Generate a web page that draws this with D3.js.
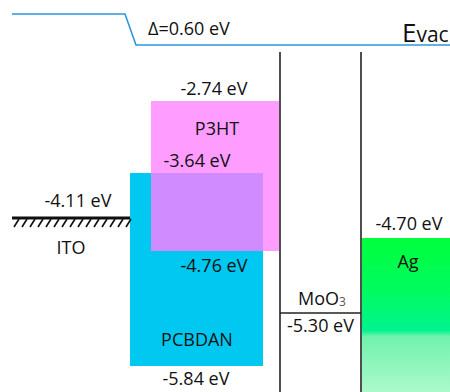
<!DOCTYPE html>
<html>
<head>
<meta charset="utf-8">
<script src="https://cdn.jsdelivr.net/npm/d3@7"></script>
<style>
  html, body { margin: 0; padding: 0; background: #fff; }
  svg { display: block; }
  text { font-family: "Open Sans", "Noto Sans", sans-serif; fill: #111; }
</style>
</head>
<body>
<svg id="chart" width="450" height="392"></svg>
<script>
// Energy levels (eV)
const semiNames = ["P3HT", "PCBDAN"];
const semiLumo = [-2.74, -3.64];
const semiHomo = [-4.76, -5.84];

const metalNames = ["ITO", "MoO3", "Ag"];
const metalLevels = [-4.11, -5.30, -4.70];

const vacuumShift = 0.60;

const svg = d3.select("#chart");
const W = 450, H = 392;

// Energy axis: schematic (not to scale), piecewise-linear between the drawn levels
const allLevels = [...semiLumo, ...semiHomo, ...metalLevels].sort((a, b) => b - a);
const yStops = [101, 173, 218, 238, 251, 313, 366];
const y = d3.scaleLinear().domain(allLevels).range(yStops);

// Horizontal placement of each layer
const x = d3.scaleOrdinal()
  .domain(["ITO", "PCBDAN", "P3HT", "MoO3", "Ag"])
  .range([[12, 130], [130, 263], [151, 279], [280, 361], [362, 452]]);

const fmt = v => v.toFixed(2) + " eV";

const defs = svg.append("defs");
const grad = defs.append("linearGradient").attr("id", "agGrad")
  .attr("x1", 0).attr("x2", 0).attr("y1", 0).attr("y2", 1);
[[0, "#00ff3c"], [0.35, "#00fb60"], [0.6, "#00f48e"], [0.64, "#70f2ad"], [1, "#acf9cb"]]
  .forEach(([o, c]) => grad.append("stop").attr("offset", o).attr("stop-color", c));

// Vacuum level with the interface dipole step
const vacY0 = 14, vacY1 = 45;
svg.append("path")
  .attr("d", d3.line()([[12, vacY0], [125, vacY0], [136, vacY1], [W, vacY1]]))
  .attr("fill", "none").attr("stroke", "#2f95e0").attr("stroke-width", 1.6);

svg.append("text").attr("x", 148).attr("y", 35).attr("font-size", 18)
  .text("Δ=" + vacuumShift.toFixed(2) + " eV");
const ev = svg.append("text").attr("x", 402).attr("y", 42);
ev.append("tspan").attr("font-size", 26).text("E");
ev.append("tspan").attr("font-size", 21).text("vac");

// Semiconductor bands
const bands = semiNames.map((n, i) => ({ name: n, lumo: semiLumo[i], homo: semiHomo[i] }));
const pc = bands[1], p3 = bands[0];

svg.append("rect")
  .attr("x", x(pc.name)[0]).attr("width", x(pc.name)[1] - x(pc.name)[0])
  .attr("y", y(pc.lumo)).attr("height", y(pc.homo) - y(pc.lumo))
  .attr("fill", "#00c8f0");
svg.append("rect")
  .attr("x", x(p3.name)[0]).attr("width", x(p3.name)[1] - x(p3.name)[0])
  .attr("y", y(p3.lumo)).attr("height", y(p3.homo) - y(p3.lumo))
  .attr("fill", "#ff9cff");
// Overlap of the two bands
const ox0 = Math.max(x(pc.name)[0], x(p3.name)[0]);
const ox1 = Math.min(x(pc.name)[1], x(p3.name)[1]);
svg.append("rect")
  .attr("x", ox0).attr("width", ox1 - ox0)
  .attr("y", y(pc.lumo)).attr("height", y(p3.homo) - y(pc.lumo))
  .attr("fill", "#d08cff");

// Ag electrode
const ag = x("Ag");
svg.append("rect")
  .attr("x", ag[0]).attr("width", ag[1] - ag[0])
  .attr("y", y(metalLevels[2])).attr("height", H - y(metalLevels[2]))
  .attr("fill", "url(#agGrad)");

// MoO3 interlayer
const mo = x("MoO3");
svg.selectAll("line.mo").data(mo).join("line")
  .attr("x1", d => d).attr("x2", d => d)
  .attr("y1", 52).attr("y2", H)
  .attr("stroke", "#222").attr("stroke-width", 1.6);
svg.append("line")
  .attr("x1", mo[0]).attr("x2", mo[1])
  .attr("y1", y(metalLevels[1])).attr("y2", y(metalLevels[1]))
  .attr("stroke", "#222").attr("stroke-width", 1.6);

// ITO electrode with hatching
const ito = x("ITO");
const itoY = y(metalLevels[0]);
svg.append("line")
  .attr("x1", ito[0]).attr("x2", ito[1]).attr("y1", itoY).attr("y2", itoY)
  .attr("stroke", "#111").attr("stroke-width", 3);
const hatch = d3.range(ito[0] + 2, ito[1] - 2, 8);
svg.selectAll("line.hatch").data(hatch).join("line")
  .attr("x1", d => d).attr("x2", d => d + 5)
  .attr("y1", itoY + 9).attr("y2", itoY + 1)
  .attr("stroke", "#111").attr("stroke-width", 1.6);

// Labels
const label = (tx, ty, t, size = 18) =>
  svg.append("text").attr("x", tx).attr("y", ty).attr("text-anchor", "middle")
    .attr("font-size", size).text(t);

label(214, y(p3.lumo) - 6, fmt(p3.lumo));
label(217, y(p3.lumo) + 34, p3.name);
label(197, y(pc.lumo) - 6, fmt(pc.lumo));
label(214, y(p3.homo) + 21, fmt(p3.homo));
label(197, y(pc.homo) - 20, pc.name);
label(196, y(pc.homo) + 19, fmt(pc.homo));

label(78, itoY - 11, fmt(metalLevels[0]));
label(71, itoY + 36, "ITO");

label(409, y(metalLevels[2]) - 8, fmt(metalLevels[2]));
label(408, y(metalLevels[2]) + 30, "Ag");

const moT = svg.append("text").attr("x", 322).attr("y", y(metalLevels[1]) - 8)
  .attr("text-anchor", "middle").attr("font-size", 18);
moT.append("tspan").text("MoO");
moT.append("tspan").attr("font-size", 12).attr("dy", 1).attr("fill", "#555").text("3");
label(320.5, y(metalLevels[1]) + 19, fmt(metalLevels[1]));
</script>
</body>
</html>
